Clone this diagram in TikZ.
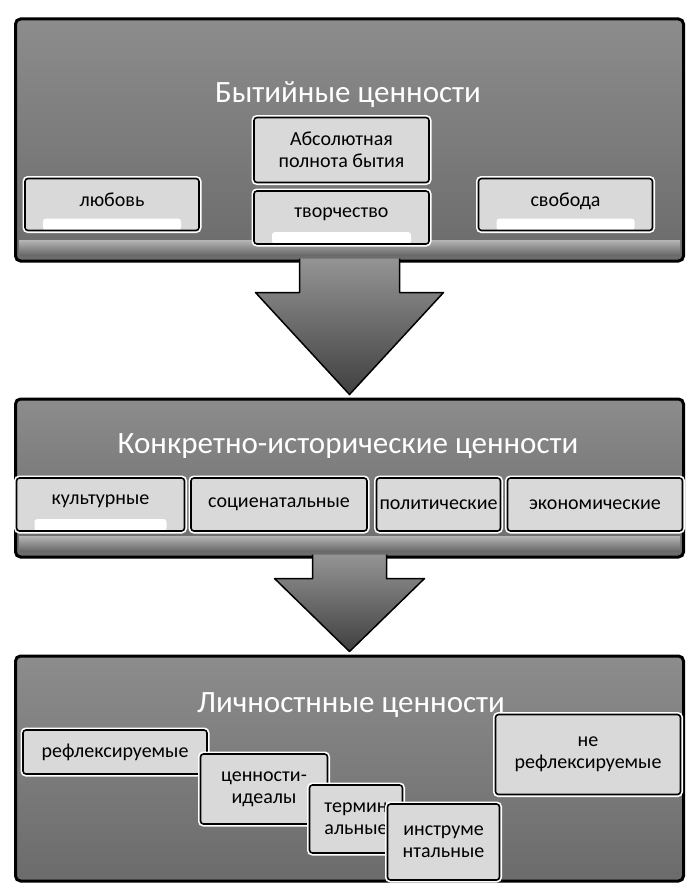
\documentclass[tikz,border=0pt]{standalone}
\usepackage{fontspec}
\setmainfont{Carlito}
\usetikzlibrary{calc}

\begin{document}
\begin{tikzpicture}[x=1pt, y=-1pt,
  panel/.style={draw=black, line width=3pt, rounded corners=5pt, top color=black!45, bottom color=black!58, inner sep=0pt, minimum width=668pt},
  bevel/.style={top color=black!30, bottom color=black!60},
  title/.style={text=white, font=\fontsize{31}{36}\selectfont},
  valbox/.style={draw=black, line width=1.6pt, rounded corners=3pt, fill=black!15, preaction={draw=white, line width=5pt}, font=\fontsize{20}{22}\selectfont, align=center, inner sep=0pt},
  footstrip/.style={text depth=9pt, path picture={\fill[white] ($(path picture bounding box.south west)+(18,0)$) rectangle ($(path picture bounding box.south east)+(-18,-12)$);}},
  blockarrow/.style={draw=black, line width=1.5pt, top color=black!42, bottom color=black!75, line join=round}]
  \useasboundingbox (0,0) rectangle (695,891);

  % panels
  \node[panel, minimum height=242pt] (being) at (349.5,140) {};
  \node[panel, minimum height=158pt] (concrete) at (349.5,478) {};
  \node[panel, minimum height=225pt] (personal) at (349.5,768.5) {};
  \fill[bevel] ($(being.south west)+(5,-22)$) rectangle ($(being.south east)+(-5,-7)$);
  \fill[bevel] ($(concrete.south west)+(5,-22)$) rectangle ($(concrete.south east)+(-5,-7)$);

  % arrows
  \draw[blockarrow] ($(being.south)+(-50,-4)$) -- ++(0,34) -- ++(-44,0) -- ($(concrete.north)+(0,-3)$)
    -- ($(being.south)+(94,30)$) -- ++(-44,0) -- ++(0,-34);
  \draw[blockarrow] ($(concrete.south)+(-37,-4)$) -- ++(0,24) -- ++(-38,0) -- ($(personal.north)+(0,-3)$)
    -- ($(concrete.south)+(75,20)$) -- ++(-38,0) -- ++(0,-24);

  % being
  \node[title] (beingtitle) at (348,95) {Бытийные ценности};
  \node[valbox, footstrip, minimum width=174pt, minimum height=52pt] (love) at (112,204.5) {любовь};
  \node[valbox, minimum width=175pt, minimum height=65pt] (fullness) at (341.5,150) {Абсолютная\\полнота бытия};
  \node[valbox, footstrip, minimum width=175pt, minimum height=53pt] (creation) at (341.5,217.5) {творчество};
  \node[valbox, footstrip, minimum width=174pt, minimum height=52pt] (freedom) at (565.5,204.5) {свобода};

  % concrete
  \node[title] (concretetitle) at (348,446) {Конкретно-исторические ценности};
  \node[valbox, footstrip, minimum width=168pt, minimum height=53pt] (culture) at (100.5,504.5) {культурные};
  \node[valbox, minimum width=176pt, minimum height=53pt] (social) at (279,504.5) {социенатальные};
  \node[valbox, minimum width=124pt, minimum height=53pt] (politics) at (438.5,504.5) {политические};
  \node[valbox, minimum width=175pt, minimum height=53pt] (economy) at (595,504.5) {экономические};

  % personal
  \node[title] (personaltitle) at (351,705) {Личностнные ценности};
  \node[valbox, minimum width=184pt, minimum height=44pt] (reflected) at (115,752) {рефлексируемые};
  \node[valbox, minimum width=127pt, minimum height=70pt] (ideals) at (264,789) {ценности-\\идеалы};
  \node[valbox, minimum width=93pt, minimum height=68pt] (terminal) at (356,819) {термин\\альные};
  \node[valbox, minimum width=112pt, minimum height=76pt] (instrumental) at (443.5,842) {инструме\\нтальные};
  \node[valbox, minimum width=185pt, minimum height=80pt] (unreflected) at (588,754.5) {не\\рефлексируемые};
\end{tikzpicture}
\end{document}
